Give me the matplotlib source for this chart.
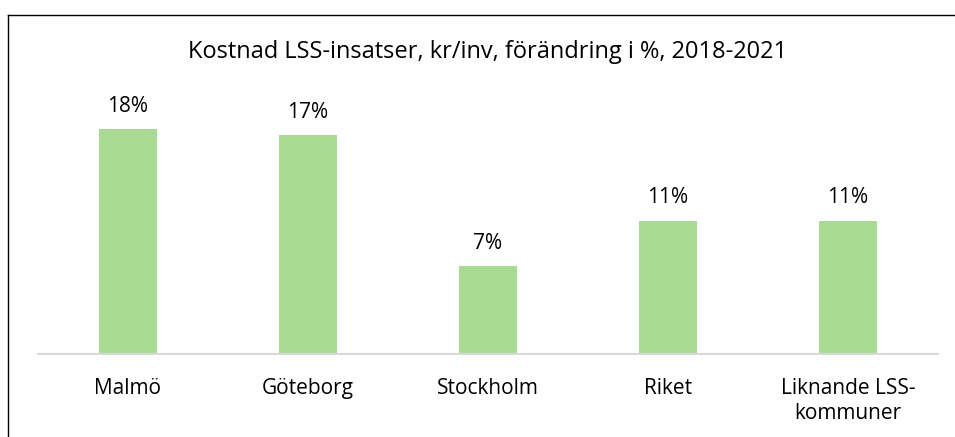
import matplotlib
matplotlib.use('Agg')
import matplotlib.pyplot as plt
from matplotlib.lines import Line2D

categories = ['Malmö', 'Göteborg', 'Stockholm', 'Riket', 'Liknande LSS-\nkommuner']
values = [17.9, 17.4, 7.0, 10.6, 10.6]
title = 'Kostnad LSS-insatser, kr/inv, förändring i %, 2018-2021'

plt.rcParams['font.family'] = ['Open Sans', 'DejaVu Sans']

W, H = 955, 437
fig = plt.figure(figsize=(W / 100, H / 100), dpi=100)

# axes: x 38..938 px, baseline at y=354 px, top at y=90 px
ax = fig.add_axes([38 / W, (H - 354) / H, 900 / W, 264 / H])
x = range(len(categories))
bars = ax.bar(x, values, width=0.32, color='#a9dc92')
ax.set_xlim(-0.5, len(categories) - 0.5)
ax.set_ylim(0, 264 / 12.56)

for b, v in zip(bars, values):
    ax.annotate('%.0f%%' % v, (b.get_x() + b.get_width() / 2, v),
                xytext=(0, 9), textcoords='offset points',
                ha='center', va='bottom', fontsize=15, color='#000000')

ax.set_xticks(list(x))
ax.set_xticklabels(categories, fontsize=15, linespacing=1.25)
ax.tick_params(axis='x', length=0, pad=17)
ax.set_yticks([])
for s in ['top', 'right', 'left']:
    ax.spines[s].set_visible(False)
ax.spines['bottom'].set_color('#d9d9d9')
ax.spines['bottom'].set_linewidth(1.5)

fig.text(0.5 * (188 + 787) / W, 1 - 52 / H, title, ha='center', va='center',
         fontsize=17)

# chart border (top and left visible)
fig.add_artist(Line2D([8 / W, 8 / W], [0, 1 - 15 / H], transform=fig.transFigure,
                      color='#000000', lw=1.0))
fig.add_artist(Line2D([8 / W, 1], [1 - 15 / H, 1 - 15 / H], transform=fig.transFigure,
                      color='#000000', lw=1.0))

fig.savefig('out.png', dpi=100)
